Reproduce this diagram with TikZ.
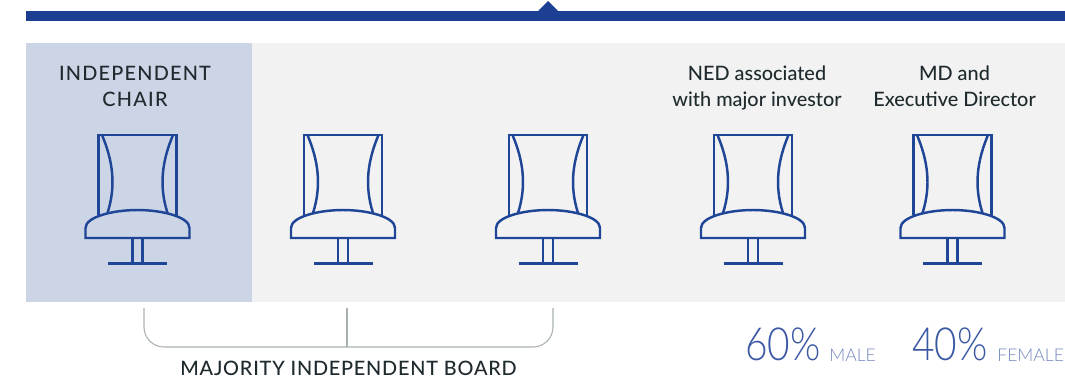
\documentclass[tikz,border=0pt]{standalone}
\usepackage{fontspec}
\setmainfont[UprightFont=* Medium]{Lato}
\newfontfamily\thinfont[UprightFont=* Light, FakeStretch=0.85]{Lato}
\newfontfamily\labelfont[UprightFont=* Light]{Lato}
\definecolor{barblue}{HTML}{1C3F94}
\definecolor{chairblue}{HTML}{1F4596}
\definecolor{chairpanel}{HTML}{CBD5E6}
\definecolor{greypanel}{HTML}{F2F2F2}
\definecolor{inkdark}{HTML}{1F2A2E}
\definecolor{bracketgrey}{HTML}{A9B0B0}
\definecolor{maleblue}{HTML}{3A58A4}
\definecolor{smallblue}{HTML}{7488BE}
\tikzset{
    caption/.style={text=inkdark, align=center, inner sep=0pt, font=\fontsize{11.3}{14.8}\selectfont},
    capscaption/.style={caption, font=\addfontfeature{LetterSpace=6.2}\fontsize{11.3}{14.8}\selectfont},
    boardcaption/.style={caption, font=\addfontfeature{LetterSpace=4}\fontsize{11.3}{14.8}\selectfont},
    bigpercent/.style={text=maleblue, inner sep=0pt, anchor=base west, font=\thinfont\fontsize{26}{26}\selectfont},
    smalllabel/.style={text=smallblue, inner sep=0pt, anchor=base west, font=\labelfont\fontsize{10}{10}\selectfont},
    chairline/.style={draw=chairblue, line width=1.4pt}
}
\begin{document}
\begin{tikzpicture}[x=0.02cm, y=-0.02cm]
    \useasboundingbox (0, 0) rectangle (1065, 383);
    \fill [barblue] (26, 11) rectangle (1065, 21);
    \fill [barblue] (537, 12) -- (548, 1) -- (559, 12) -- cycle;

    \fill [greypanel] (26, 43) rectangle (1065, 302);
    \fill [chairpanel] (26, 43) rectangle (252, 302);

    \foreach \cx in {137.5, 343, 548, 753, 952.5} {
        \begin{scope}[shift={(\cx, 0)}]
            \draw [chairline] (-39, 215) -- (-39, 135) -- (39, 135) -- (39, 215);
            \draw [chairline] (-35.5, 135) .. controls (-25, 160) and (-21, 185) .. (-30, 213);
            \draw [chairline] (35.5, 135) .. controls (25, 160) and (21, 185) .. (30, 213);
            \draw [chairline] (-52, 238) -- (-52, 228) .. controls (-52, 217) and (-25, 210) .. (0, 210) .. controls (25, 210) and (52, 217) .. (52, 228) -- (52, 238) -- cycle;
            \draw [chairline] (-5, 238) -- (-5, 263.5);
            \draw [chairline] (5, 238) -- (5, 263.5);
            \draw [chairline] (-29.5, 263.5) -- (29.5, 263.5);
        \end{scope}
    }

    \node [capscaption] (chair) at (135, 86) {INDEPENDENT\\CHAIR};
    \node [caption] (ned) at (757, 88) {NED associated\\with major investor};
    \node [caption] (md) at (954.5, 86) {MD and\\Executive Director};

    \draw [bracketgrey, line width=0.6pt, rounded corners=0.4cm] (144, 308) -- (144, 347) -- (553, 347) -- (553, 308);
    \draw [bracketgrey, line width=0.6pt] (347, 308) -- (347, 347);
    \node [boardcaption] (majority) at (348.5, 368.5) {MAJORITY INDEPENDENT BOARD};

    \node [bigpercent] (sixty) at (745, 360) {60\%};
    \node [smalllabel] (male) at (829, 361) {MALE};
    \node [bigpercent] (forty) at (912, 360) {40\%};
    \node [smalllabel] (female) at (997, 361) {FEMALE};
\end{tikzpicture}
\end{document}
